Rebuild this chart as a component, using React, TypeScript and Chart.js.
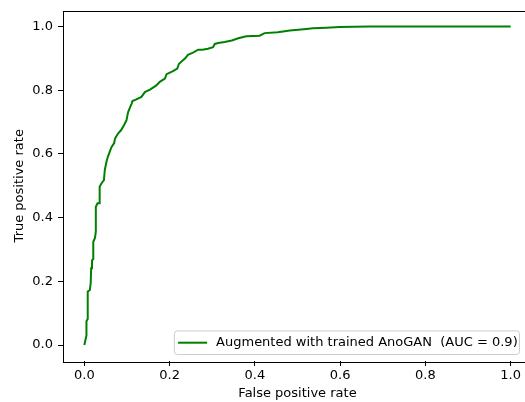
import React, { useEffect, useRef } from "react";
import { Chart, registerables } from "chart.js";

Chart.register(...registerables);

const fprValues = [
  0.0, 0.002, 0.005, 0.005, 0.008, 0.008, 0.013, 0.015, 0.016, 0.018, 0.021, 0.021,
  0.025, 0.027, 0.027, 0.031, 0.036, 0.036, 0.04, 0.046, 0.048, 0.052, 0.055, 0.058,
  0.061, 0.064, 0.07, 0.072, 0.079, 0.086, 0.093, 0.099, 0.101, 0.103, 0.108, 0.111,
  0.113, 0.122, 0.134, 0.142, 0.154, 0.169, 0.177, 0.189, 0.193, 0.208, 0.218, 0.222,
  0.236, 0.243, 0.255, 0.267, 0.277, 0.29, 0.302, 0.306, 0.314, 0.329, 0.346, 0.361,
  0.38, 0.411, 0.423, 0.454, 0.482, 0.521, 0.536, 0.568, 0.599, 0.669, 1.0,
];
const tprValues = [
  0.0, 0.012, 0.03, 0.075, 0.082, 0.168, 0.173, 0.195, 0.241, 0.266, 0.27, 0.324,
  0.336, 0.356, 0.434, 0.445, 0.445, 0.497, 0.507, 0.518, 0.549, 0.575, 0.59, 0.601,
  0.612, 0.622, 0.634, 0.648, 0.664, 0.674, 0.69, 0.706, 0.72, 0.732, 0.748, 0.758,
  0.766, 0.771, 0.779, 0.794, 0.802, 0.815, 0.826, 0.836, 0.85, 0.86, 0.868, 0.883,
  0.899, 0.911, 0.918, 0.927, 0.927, 0.93, 0.935, 0.945, 0.948, 0.951, 0.956, 0.963,
  0.969, 0.971, 0.979, 0.982, 0.987, 0.992, 0.994, 0.996, 0.998, 1.0, 1.0,
];
const tickValues = [0.0, 0.2, 0.4, 0.6, 0.8, 1.0];
const seriesLabel = "Augmented with trained AnoGAN  (AUC = 0.9)";
const xTitle = "False positive rate";
const yTitle = "True positive rate";

const FONT = "'DejaVu Sans', sans-serif";

const framePlugin = {
  id: "frameAndLegend",
  afterDraw(chart: any) {
    const { ctx, chartArea } = chart;
    ctx.save();
    // spines
    ctx.strokeStyle = "#000";
    ctx.lineWidth = 1;
    ctx.strokeRect(
      Math.round(chartArea.left) + 0.5,
      Math.round(chartArea.top) + 0.5,
      Math.round(chartArea.right - chartArea.left),
      Math.round(chartArea.bottom - chartArea.top)
    );
    // legend
    ctx.font = `13px ${FONT}`;
    const w = ctx.measureText(seriesLabel).width;
    const right = chartArea.right - 12.5;
    const bottom = chartArea.bottom - 6.5;
    const boxW = w + 43.5;
    const boxH = 23.6;
    const left = right - boxW;
    const top = bottom - boxH;
    const r = 3;
    ctx.beginPath();
    ctx.moveTo(left + r, top);
    ctx.lineTo(right - r, top);
    ctx.quadraticCurveTo(right, top, right, top + r);
    ctx.lineTo(right, bottom - r);
    ctx.quadraticCurveTo(right, bottom, right - r, bottom);
    ctx.lineTo(left + r, bottom);
    ctx.quadraticCurveTo(left, bottom, left, bottom - r);
    ctx.lineTo(left, top + r);
    ctx.quadraticCurveTo(left, top, left + r, top);
    ctx.closePath();
    ctx.fillStyle = "rgba(255,255,255,0.8)";
    ctx.fill();
    ctx.strokeStyle = "#cccccc";
    ctx.lineWidth = 1;
    ctx.stroke();
    const cy = top + boxH / 2;
    ctx.strokeStyle = "#008000";
    ctx.lineWidth = 2;
    ctx.beginPath();
    ctx.moveTo(left + 3.7, cy);
    ctx.lineTo(left + 32.7, cy);
    ctx.stroke();
    ctx.fillStyle = "#000";
    ctx.textAlign = "left";
    ctx.textBaseline = "middle";
    ctx.fillText(seriesLabel, left + 41.7, cy);
    ctx.restore();
  },
};

export default function App() {
  const ref = useRef<HTMLCanvasElement | null>(null);
  useEffect(() => {
    if (!ref.current) return;
    const points = fprValues.map((x, i) => ({ x, y: tprValues[i] }));
    const tickOpts = {
      color: "#000",
      font: { family: FONT, size: 13 },
      callback: (v: any) => Number(v).toFixed(1),
    };
    const chart = new Chart(ref.current, {
      type: "line",
      data: {
        datasets: [
          {
            label: seriesLabel,
            data: points,
            borderColor: "#008000",
            backgroundColor: "#008000",
            borderWidth: 2,
            pointRadius: 0,
            tension: 0,
            fill: false,
          },
        ],
      },
      options: {
        animation: false,
        responsive: false,
        maintainAspectRatio: false,
        layout: { padding: { left: 0, top: 10.5, right: 13, bottom: 0 } },
        plugins: { legend: { display: false }, tooltip: { enabled: false } },
        scales: {
          x: {
            type: "linear",
            min: -0.05,
            max: 1.05,
            afterBuildTicks: (s: any) => {
              s.ticks = tickValues.map((v) => ({ value: v }));
            },
            afterFit: (s: any) => {
              s.height = 41;
              s.paddingLeft = 0;
              s.paddingRight = 0;
            },
            grid: {
              drawOnChartArea: false,
              drawTicks: true,
              tickLength: 5,
              color: "#000",
            },
            border: { display: false },
            ticks: { ...tickOpts, padding: 2, maxRotation: 0, autoSkip: false },
            title: {
              display: true,
              text: xTitle,
              color: "#000",
              font: { family: FONT, size: 13 },
              padding: { top: 0, bottom: 1 },
            },
          },
          y: {
            type: "linear",
            min: -0.05,
            max: 1.05,
            afterBuildTicks: (s: any) => {
              s.ticks = tickValues.map((v) => ({ value: v }));
            },
            afterFit: (s: any) => {
              s.width = 63;
              s.paddingTop = 0;
              s.paddingBottom = 0;
            },
            grid: {
              drawOnChartArea: false,
              drawTicks: true,
              tickLength: 5,
              color: "#000",
            },
            border: { display: false },
            ticks: { ...tickOpts, padding: 5, autoSkip: false },
            title: {
              display: true,
              text: yTitle,
              color: "#000",
              font: { family: FONT, size: 13 },
              padding: { top: 12, bottom: 0 },
            },
          },
        },
      },
      plugins: [framePlugin],
    });
    return () => chart.destroy();
  }, []);
  return (
    <div
      style={{
        position: "fixed",
        left: 0,
        top: 0,
        width: 525,
        height: 402,
        overflow: "hidden",
        background: "#fff",
      }}
    >
      <canvas ref={ref} width={545} height={402} style={{ width: 545, height: 402, display: "block" }} />
    </div>
  );
}
